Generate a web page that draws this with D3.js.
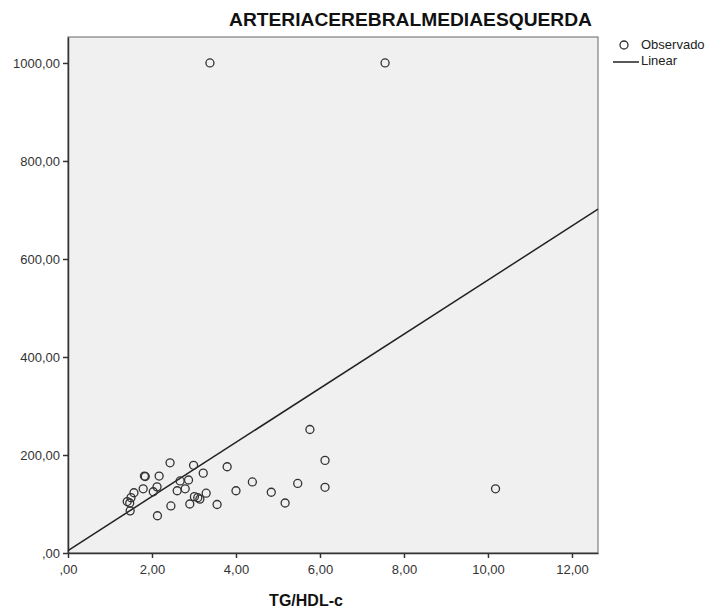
<!DOCTYPE html>
<html>
<head>
<meta charset="utf-8">
<script src="https://cdn.jsdelivr.net/npm/d3@7"></script>
<style>
  body { margin: 0; background: #fff; }
  svg { display: block; font-family: "Liberation Sans", Arial, sans-serif; }
</style>
</head>
<body>
<div id="chart"></div>
<script>
// Dados (TG/HDL-c vs artéria cerebral média esquerda)
const tgHdl = [1.41, 1.47, 1.50, 1.57, 1.48, 1.79, 1.82, 1.84, 2.03, 2.12,
               2.17, 2.13, 2.43, 2.45, 2.60, 2.67, 2.79, 2.87, 2.90, 2.99,
               3.01, 3.09, 3.14, 3.22, 3.29, 3.55, 3.79, 4.00, 4.39, 4.84,
               5.17, 5.47, 5.76, 6.12, 6.12, 10.18, 3.38, 7.55];
const acme = [105, 102, 113, 123, 86, 131, 157, 156, 125, 135,
              157, 76, 184, 96, 127, 147, 131, 149, 100, 179,
              115, 113, 110, 163, 122, 99, 176, 127, 145, 124,
              102, 142, 252, 189, 134, 131, 1000, 1000];

// reta de ajuste linear
const fitIntercept = 5;
const fitSlope = 55.2;

const xTicks = [0, 2, 4, 6, 8, 10, 12];
const yTicks = [0, 200, 400, 600, 800, 1000];
const legendLabels = ["Observado", "Linear"];
const titleText = "ARTERIACEREBRALMEDIAESQUERDA";
const xTitle = "TG/HDL-c";

const width = 712, height = 612;
const margin = { top: 37, right: 114, bottom: 59, left: 68 };
const innerW = width - margin.left - margin.right;
const innerH = height - margin.top - margin.bottom;

const fmt = d => d === 0 ? ",00" : d.toFixed(2).replace(".", ",");

const svg = d3.select("#chart").append("svg")
    .attr("width", width)
    .attr("height", height);

const x = d3.scaleLinear().domain([0, 12.62]).range([0, innerW]);
const y = d3.scaleLinear().domain([0, 1053]).range([innerH, 0]);

const g = svg.append("g").attr("transform", `translate(${margin.left},${margin.top})`);

// fundo da área do gráfico
g.append("rect")
    .attr("width", innerW)
    .attr("height", innerH)
    .style("fill", "#f0f0f0")
    .style("stroke", "#666")
    .style("stroke-width", 1);

// eixos
const xAxis = g.append("g")
    .attr("transform", `translate(0,${innerH})`)
    .call(d3.axisBottom(x).tickValues(xTicks).tickFormat(fmt).tickSize(5).tickSizeOuter(0));
const yAxis = g.append("g")
    .call(d3.axisLeft(y).tickValues(yTicks).tickFormat(fmt).tickSize(5).tickSizeOuter(0));

[xAxis, yAxis].forEach(a => {
    a.select(".domain").style("stroke", "#333").style("stroke-width", 1.5);
    a.selectAll(".tick line").style("stroke", "#333").style("stroke-width", 1.5);
    a.selectAll(".tick text")
        .style("font-family", "'Liberation Sans', Arial, sans-serif")
        .style("font-size", "13px")
        .style("fill", "#333");
});
xAxis.selectAll(".tick text").attr("dy", "1em");

// reta linear
g.append("line")
    .attr("x1", x(0))
    .attr("y1", y(fitIntercept))
    .attr("x2", x(12.62))
    .attr("y2", y(fitIntercept + fitSlope * 12.62))
    .style("stroke", "#222")
    .style("stroke-width", 1.5);

// pontos observados
g.append("g")
    .selectAll("circle")
    .data(tgHdl.map((v, i) => [v, acme[i]]))
    .join("circle")
    .attr("cx", d => x(d[0]))
    .attr("cy", d => y(d[1]))
    .attr("r", 4)
    .style("fill", "none")
    .style("stroke", "#333")
    .style("stroke-width", 1.3);

// título
svg.append("text")
    .attr("x", 592)
    .attr("y", 26)
    .attr("text-anchor", "end")
    .attr("textLength", 363)
    .attr("lengthAdjust", "spacingAndGlyphs")
    .style("font-size", "18px")
    .style("font-weight", "bold")
    .style("fill", "#111")
    .text(titleText);

// título do eixo x
svg.append("text")
    .attr("x", 306)
    .attr("y", 606)
    .attr("text-anchor", "middle")
    .style("font-size", "16px")
    .style("font-weight", "bold")
    .style("fill", "#111")
    .text(xTitle);

// legenda
const legend = svg.append("g").attr("transform", "translate(613,45)");
legend.append("circle")
    .attr("cx", 11).attr("cy", 0).attr("r", 4)
    .style("fill", "none").style("stroke", "#333").style("stroke-width", 1.3);
legend.append("line")
    .attr("x1", 0).attr("x2", 26).attr("y1", 17).attr("y2", 17)
    .style("stroke", "#222").style("stroke-width", 1.5);
legend.selectAll("text")
    .data(legendLabels)
    .join("text")
    .attr("x", 28)
    .attr("y", (d, i) => 4 + i * 16)
    .style("font-size", "13px")
    .style("fill", "#222")
    .text(d => d);
</script>
</body>
</html>
